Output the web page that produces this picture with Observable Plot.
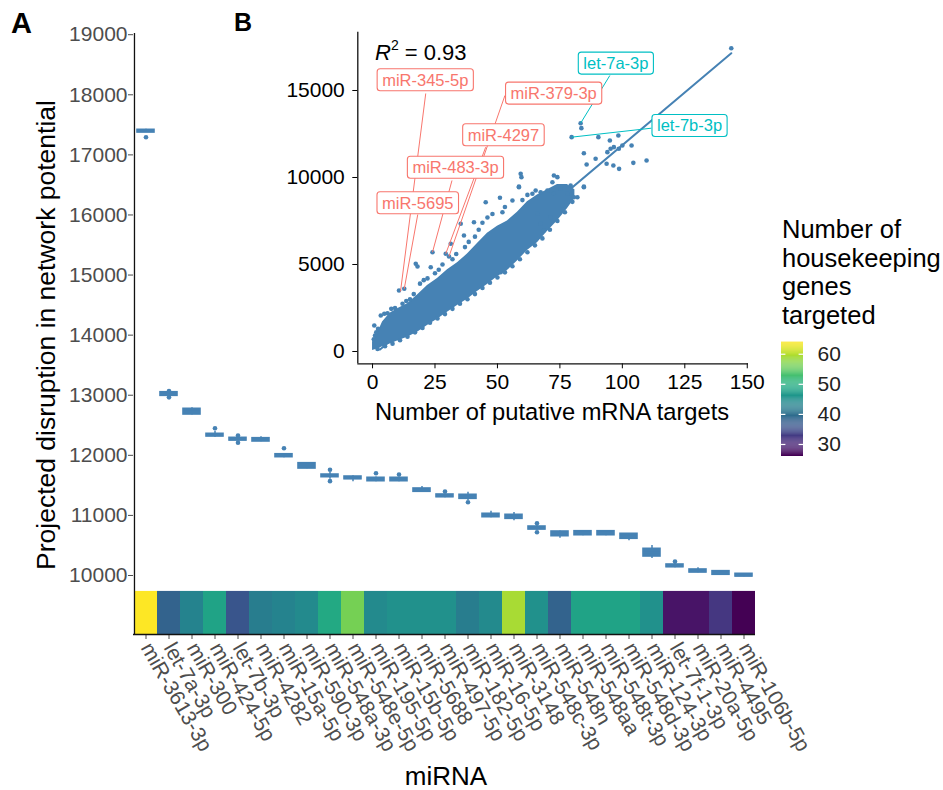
<!DOCTYPE html>
<html>
<head>
<meta charset="utf-8">
<script src="https://cdn.jsdelivr.net/npm/d3@7"></script>
<script src="https://cdn.jsdelivr.net/npm/@observablehq/plot@0.6"></script>
<style>
  body { margin: 0; background: #fff; }
  #wrap { position: relative; width: 943px; height: 790px; overflow: hidden; background: #fff; }
  #wrap svg { position: absolute; }
</style>
</head>
<body>
<div id="wrap"></div>
<script>
// ---------------- Panel A data ----------------
const mirnas = ["miR-3613-3p","let-7a-3p","miR-300","miR-424-5p","let-7b-3p","miR-4282","miR-15a-5p",
  "miR-590-3p","miR-548a-3p","miR-548e-5p","miR-195-5p","miR-15b-5p","miR-5688","miR-497-5p",
  "miR-182-5p","miR-16-5p","miR-3148","miR-548c-3p","miR-548n","miR-548aa","miR-548t-3p",
  "miR-548d-3p","miR-124-3p","let-7f-1-3p","miR-20a-5p","miR-4495","miR-106b-5p"];
const housekeeping = [64, 38, 43, 48, 36, 42, 43, 44, 49, 56, 44, 45, 45, 45, 42, 44, 59, 45, 38, 48, 48, 48, 45, 28, 28, 32, 26];
const boxQ1 =     [17372, 12990, 12679, 12313, 12246, 12230, 11969, 11780, 11636, 11602, 11569, 11569, 11393, 11303, 11276, 10970, 10943, 10765, 10654, 10670, 10670, 10611, 10316, 10138, 10050, 10012, 9983];
const boxMedian = [17400, 13025, 12730, 12340, 12270, 12260, 11995, 11825, 11660, 11625, 11600, 11600, 11420, 11325, 11310, 11000, 10975, 10790, 10700, 10705, 10705, 10650, 10380, 10160, 10075, 10040, 10005];
const boxQ3 =     [17417, 13050, 12774, 12358, 12291, 12285, 12018, 11869, 11680, 11647, 11626, 11626, 11448, 11348, 11343, 11027, 11010, 10815, 10732, 10737, 10737, 10694, 10444, 10183, 10100, 10072, 10028];
const whiskerLow =  [17372, 12975, 12670, 12300, 12240, 12225, 11960, 11775, 11600, 11559, 11560, 11560, 11385, 11295, 11250, 10960, 10910, 10755, 10620, 10660, 10660, 10580, 10283, 10130, 10045, 10005, 9978];
const whiskerHigh = [17425, 13065, 12790, 12400, 12300, 12310, 12025, 11875, 11720, 11660, 11640, 11640, 11481, 11355, 11386, 11070, 11050, 10830, 10740, 10745, 10745, 10700, 10499, 10200, 10130, 10080, 10035];
const outlierMirna = ["miR-3613-3p","let-7a-3p","let-7a-3p","miR-424-5p","let-7b-3p","let-7b-3p","miR-15a-5p",
  "miR-548a-3p","miR-548a-3p","miR-195-5p","miR-15b-5p","miR-497-5p","miR-182-5p","miR-548c-3p","miR-548c-3p","let-7f-1-3p"];
const outlierValue = [17293, 13070, 12965, 12451, 12330, 12208, 12118, 11759, 11570, 11702, 11680, 11398, 11220, 10870, 10720, 10233];
const yTicksA = [10000, 11000, 12000, 13000, 14000, 15000, 16000, 17000, 18000, 19000];

// ---------------- Panel B data ----------------
// dense core of the scatter (envelope)
const coreTargets = [0, 2, 4, 7, 10, 14, 18, 22, 26, 30, 34, 38, 42, 46, 50, 54, 58, 62, 66, 70, 74, 78, 81];
const coreLow =  [60, 150, 280, 430, 600, 820, 1100, 1500, 1850, 2250, 2640, 3000, 3450, 3850, 4300, 4650, 5200, 5800, 6250, 6900, 7500, 8200, 8800];
const coreHigh = [550, 1050, 1700, 2200, 2450, 2750, 3250, 3800, 4200, 4700, 5100, 5600, 6200, 6800, 7200, 7500, 8000, 8600, 9000, 9300, 9600, 9600, 9300];
// individual points (edges and outlying miRNAs)
const ptTargets = [0.7,1,0.5,1.5,2.2,3.3,4.7,6,7.5,9,10.6,12.7,12,13.5,15,16.5,17.3,18,19,20.5,22,23.3,24,25,26.5,28,29.3,30.6,31.3,32,33.5,35.3,36.6,37,38.5,40.6,41,42.5,44,45.3,46,48,51,51.3,52,53,56,58.6,59.3,59.6,58.6,60,62,64,65.3,66,67.3,67.3,68.6,70,71.3,72,72.6,72.6,74,75.3,76,78,79.3,80.6,82,84.6,84.6,85.7,84.6,89.3,93.7,96.4,98.7,104.4,109.7,94,95.3,96.6,95,98.6,100,103.7,98.4,90.4,79.7,83.3,83.6,143.6,
  2,5,8,11,14,17,20,23,26,29,32,35,38,41,44,47,50,53,56,59,62,65,68,71,74,77,80];
const ptDisrupt = [1494,920,700,1100,1300,2069,2167,2200,2450,2500,3506,3602,2741,2900,3000,3300,5040,4885,3900,4100,4200,4845,5707,4500,4700,5000,5615,5460,6190,5300,5600,7338,6667,6000,6300,7431,6600,7000,7400,8580,7700,7900,8833,4557,8000,8300,8678,9443,10213,10019,9483,8700,9000,9063,9253,7913,7338,9155,6954,9253,7719,9730,9063,10115,10019,9351,8400,9063,9540,8868,8868,9443,9483,10747,11397,11073,10787,10690,10498,10843,10977,11456,11648,11743,12126,11648,11839,11839,12414,12318,12318,13121,12835,17431,
  150,300,450,650,850,1100,1350,1650,1900,2150,2450,2750,3000,3300,3650,3950,4250,4550,4900,5300,5700,6100,6500,7000,7500,8000,8600];
const fitTargets = [3, 143.6];
const fitDisrupt = [110, 17140];
const xTicksB = [0, 25, 50, 75, 100, 125, 150];
const yTicksB = [0, 5000, 10000, 15000];
const rSquared = "0.93";
// labelled miRNAs
const labelNames = ["miR-345-5p","miR-379-3p","miR-4297","miR-483-3p","miR-5695","let-7a-3p","let-7b-3p"];
const labelGroup = ["red","red","red","red","red","cyan","cyan"];
const labelPointX = [11.2, 30.6, 29.3, 24, 12.7, 83.3, 79.7];
const labelPointY = [3450, 5460, 5615, 5707, 3603, 13121, 12318];
const labelBoxX = [21.1, 72.5, 52.4, 33.2, 18.1, 97.4, 126.9];
const labelBoxY = [15575, 14810, 12414, 10546, 8506, 16534, 12948];
const labelSegX = [21.3, 53, 45.3, 31.8, 18.1, 95, 111.6];
const labelSegY = [14828, 14713, 11741, 9828, 7874, 15862, 12833];

// ---------------- build ----------------
const font = '"Liberation Sans", Arial, Helvetica, sans-serif';
const wrap = document.getElementById("wrap");
function put(el, left, top) { el.style.left = left + "px"; el.style.top = top + "px"; wrap.appendChild(el); return el; }

const boxes = mirnas.map((m, i) => ({m, hk: housekeeping[i], q1: boxQ1[i], q3: boxQ3[i], med: boxMedian[i], lo: whiskerLow[i], hi: whiskerHigh[i]}));
const outs = outlierMirna.map((m, i) => ({m, v: outlierValue[i]}));
const hkDomain = [d3.min(housekeeping), d3.max(housekeeping)];

const WA = 943, HA = 790, mL = 133, mR = 188, mT = 33, mB = 156;
const yMin = 9018, yMax = 19020, stripTop = 9735;
const bandHalf = (WA - mL - mR) / mirnas.length / 2;
const blue = "#4682B4";

const plotA = Plot.plot({
  width: WA, height: HA, marginLeft: mL, marginRight: mR, marginTop: mT, marginBottom: mB,
  style: {fontFamily: font, fontSize: "21px", color: "#4d4d4d", background: "none", overflow: "visible"},
  x: {type: "band", domain: mirnas, padding: 0, label: null, tickSize: 5, tickPadding: 5, tickRotate: 60},
  y: {domain: [yMin, yMax], ticks: yTicksA, tickFormat: d => String(d), tickSize: 5, tickPadding: 1, label: null},
  color: {type: "linear", scheme: "viridis", domain: hkDomain},
  marks: [
    Plot.barY(boxes, {x: "m", y1: yMin, y2: stripTop, fill: "hk"}),
    Plot.ruleX(boxes, {x: "m", y1: "lo", y2: "hi", stroke: blue, strokeWidth: 1.5}),
    Plot.barY(boxes, {x: "m", y1: "q1", y2: "q3", fill: blue, stroke: blue, strokeWidth: 1.6, insetLeft: 3, insetRight: 3}),
    Plot.tickY(boxes, {x: "m", y: "med", stroke: blue, strokeWidth: 2.5, insetLeft: 3, insetRight: 3}),
    Plot.dot(outs, {x: "m", y: "v", r: 2.3, fill: blue}),
    Plot.ruleY([yMin], {stroke: "#111", strokeWidth: 1.3}),
    Plot.ruleX([mirnas[0]], {dx: -bandHalf, y1: yMin, y2: yMax, stroke: "#111", strokeWidth: 1.3})
  ]
});
put(plotA, 0, 0);

// ---- Panel B (inset) ----
const core = coreTargets.map((x, i) => ({x, lo: coreLow[i], hi: coreHigh[i]}));
const pts = ptTargets.map((x, i) => ({x, y: ptDisrupt[i]}));
const fit = fitTargets.map((x, i) => ({x, y: fitDisrupt[i]}));
const labs = labelNames.map((name, i) => ({name, g: labelGroup[i], px: labelPointX[i], py: labelPointY[i], bx: labelBoxX[i], by: labelBoxY[i], sx: labelSegX[i], sy: labelSegY[i]}));
const red = "#F8766D", cyan = "#00BFC4";
const redL = labs.filter(d => d.g === "red"), cyanL = labs.filter(d => d.g === "cyan");
const xDomB = [-5.9, 150.5], yDomB = [-707, 18350];

const plotB = Plot.plot({
  width: 480, height: 430, marginLeft: 77.3, marginRight: 12, marginTop: 31.7, marginBottom: 66.7,
  style: {fontFamily: font, fontSize: "21px", color: "#000", background: "none", overflow: "visible"},
  x: {domain: xDomB, ticks: xTicksB, tickFormat: d => String(d), tickSize: 5, tickPadding: 5, label: null},
  y: {domain: yDomB, ticks: yTicksB, tickFormat: d => String(d), tickSize: 5, tickPadding: 8, label: null},
  marks: [
    Plot.line(fit, {x: "x", y: "y", stroke: blue, strokeWidth: 2}),
    Plot.areaY(core, {x: "x", y1: "lo", y2: "hi", fill: blue}),
    Plot.dot(pts, {x: "x", y: "y", r: 2.3, fill: blue}),
    Plot.link(redL, {x1: "sx", y1: "sy", x2: "px", y2: "py", stroke: red, strokeWidth: 1}),
    Plot.link(cyanL, {x1: "sx", y1: "sy", x2: "px", y2: "py", stroke: cyan, strokeWidth: 1}),
    Plot.text(redL, {x: "bx", y: "by", text: "name", fill: red, fontSize: 16.5}),
    Plot.text(cyanL, {x: "bx", y: "by", text: "name", fill: cyan, fontSize: 16.5}),
    Plot.ruleX([xDomB[0]], {stroke: "#111", strokeWidth: 1.3}),
    Plot.ruleY([yDomB[0]], {stroke: "#111", strokeWidth: 1.3})
  ]
});
put(plotB, 280, 0);

// rounded boxes behind the repelled labels
const groupColor = {red, cyan};
plotB.querySelectorAll("text").forEach(t => {
  const idx = labelNames.indexOf(t.textContent);
  if (idx < 0) return;
  const col = groupColor[labelGroup[idx]];
  const b = t.getBBox();
  const r = document.createElementNS("http://www.w3.org/2000/svg", "rect");
  r.setAttribute("x", b.x - 5); r.setAttribute("y", b.y - 2);
  r.setAttribute("width", b.width + 10); r.setAttribute("height", b.height + 4);
  r.setAttribute("rx", 3); r.setAttribute("fill", "white"); r.setAttribute("stroke", col); r.setAttribute("stroke-width", 1.1);
  if (t.getAttribute("transform")) r.setAttribute("transform", t.getAttribute("transform"));
  t.parentNode.insertBefore(r, t);
});

// ---- colour bar legend ----
const nSlices = 120;
const step = (hkDomain[1] - hkDomain[0]) / nSlices;
const slices = d3.range(nSlices).map(i => hkDomain[0] + i * step);
const legendTicks = [30, 40, 50, 60];
const legend = Plot.plot({
  width: 120, height: 130, marginLeft: 6, marginRight: 92, marginTop: 6.7, marginBottom: 9,
  style: {fontFamily: font, fontSize: "21px", color: "#222", background: "none", overflow: "visible"},
  x: {domain: [0, 1], axis: null},
  y: {domain: hkDomain, axis: "right", ticks: legendTicks, tickSize: 0, tickPadding: 14, label: null},
  color: {type: "linear", scheme: "viridis", domain: hkDomain},
  marks: [
    Plot.rect(slices, {x1: 0, x2: 1, y1: d => d, y2: d => d + step * 1.05, fill: d => d}),
    Plot.ruleY(legendTicks, {x1: 0, x2: 0.2, stroke: "white", strokeWidth: 1.2}),
    Plot.ruleY(legendTicks, {x1: 0.8, x2: 1, stroke: "white", strokeWidth: 1.2})
  ]
});
put(legend, 775, 335);

// ---- titles & panel letters ----
const ov = d3.create("svg").attr("width", 943).attr("height", 790)
  .style("font-family", font).style("pointer-events", "none").style("left", "0px").style("top", "0px");
ov.append("text").attr("x", 11).attr("y", 33).attr("font-size", 29).attr("font-weight", "bold").text("A");
ov.append("text").attr("x", 234).attr("y", 31).attr("font-size", 25).attr("font-weight", "bold").text("B");
ov.append("text").attr("transform", "translate(55,335) rotate(-90)").attr("text-anchor", "middle")
  .attr("font-size", 26.5).text("Projected disruption in network potential");
ov.append("text").attr("x", 446).attr("y", 785).attr("text-anchor", "middle").attr("font-size", 26).text("miRNA");
ov.append("text").attr("x", 552).attr("y", 420).attr("text-anchor", "middle").attr("font-size", 23.7).text("Number of putative mRNA targets");
const r2 = ov.append("text").attr("x", 375).attr("y", 60).attr("font-size", 22);
r2.append("tspan").attr("font-style", "italic").text("R");
r2.append("tspan").attr("font-size", 14).attr("dy", -10).text("2");
r2.append("tspan").attr("dy", 10).text(" = " + rSquared);
["Number of", "housekeeping", "genes", "targeted"].forEach((s, i) =>
  ov.append("text").attr("x", 782).attr("y", 238 + i * 28.5).attr("font-size", 25.5).text(s));
wrap.appendChild(ov.node());
</script>
</body>
</html>
